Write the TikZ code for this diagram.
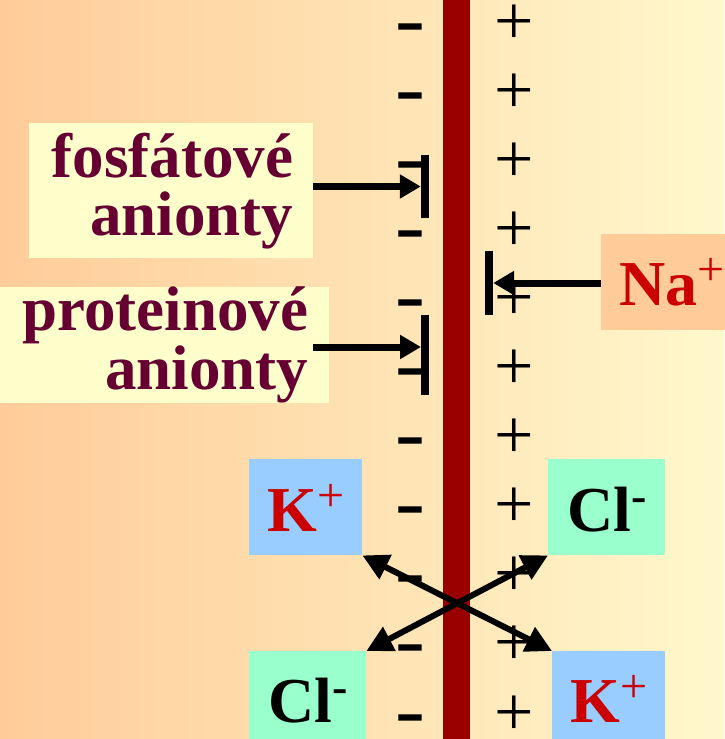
\documentclass[tikz,border=0pt]{standalone}
\usepackage{fontspec}
\setmainfont{Liberation Serif}
\usetikzlibrary{arrows.meta}
\definecolor{bgL}{HTML}{FFCC99}
\definecolor{bgR}{HTML}{FFF8CC}
\definecolor{memb}{HTML}{990000}
\definecolor{lblfill}{HTML}{FFFFCC}
\definecolor{lbltext}{HTML}{660033}
\definecolor{ionred}{HTML}{CC0000}
\definecolor{kfill}{HTML}{99CCFF}
\definecolor{clfill}{HTML}{99FFCC}
\definecolor{nafill}{HTML}{FFCC99}
\newcommand{\supplus}{\raisebox{20pt}{\fontsize{48}{48}\mdseries\selectfont +}}
\newcommand{\supminus}{\raisebox{20pt}{\fontsize{46}{46}\bfseries\selectfont -}}
\lineskiplimit=-100pt
\begin{document}
\begin{tikzpicture}[x=1pt,y=-1pt,
  lbl/.style={fill=lblfill, text=lbltext, align=right, inner ysep=0pt, anchor=north west},
  ion/.style={inner sep=0pt, minimum height=96pt, text height=72pt, text depth=24pt,
    font=\bfseries\fontsize{64}{64}\selectfont, anchor=north west},
  minussign/.style={inner sep=0pt, anchor=base, font=\bfseries\fontsize{62}{62}\selectfont},
  plussign/.style={inner sep=0pt, anchor=base, font=\fontsize{70}{70}\selectfont},
  gate/.style={fill=black, inner sep=0pt, minimum width=8pt},
  harrow/.style={line width=7pt, -{Triangle[length=21pt,width=23pt]}},
  xarrow/.style={line width=6pt, {Triangle[length=26pt,width=26pt]}-{Triangle[length=26pt,width=26pt]}}
]
\useasboundingbox (0,0) rectangle (724,739);
\shade[left color=bgL, right color=bgR] (0,0) rectangle (724,739);
\fill[memb] (443,0) rectangle (470,739);
\foreach \k in {0,...,10} {
  \pgfmathsetmacro{\ym}{24+69.1*\k+20}
  \pgfmathsetmacro{\yp}{22+69.1*\k+22}
  \node[minussign] (m\k) at (410.5,\ym) {\scalebox{1.45}[1.2]{-}};
  \node[plussign] (p\k) at (514,\yp) {+};
}
\node[lbl, inner xsep=20pt, text width=244pt, minimum height=135pt,
  font=\bfseries\fontsize{63}{58}\selectfont] (fos) at (29,123) {fosfátové\\anionty};
\node[lbl, inner xsep=21pt, text width=287pt, minimum height=112pt,
  font=\bfseries\fontsize{63}{44}\selectfont] (prot) at (0,287) {proteinové\\anionty};
\node[ion, fill=nafill, text=ionred, minimum width=142pt, text height=71pt, text depth=25pt] (Na) at (601,234) {Na\supplus};
\node[ion, fill=kfill, text=ionred, minimum width=113pt] (K1) at (249,459) {K\supplus};
\node[ion, fill=clfill, text=black, minimum width=117pt] (Cl1) at (548,459) {Cl\supminus};
\node[ion, fill=clfill, text=black, minimum width=117pt, text height=71pt, text depth=25pt] (Cl2) at (249,651) {Cl\supminus};
\node[ion, fill=kfill, text=ionred, minimum width=113pt, text height=71pt, text depth=25pt] (K2) at (552,651) {K\supplus};
\node[gate, minimum height=63pt] (gF) at (425,186.5) {};
\node[gate, minimum height=80pt] (gP) at (425,355) {};
\node[gate, minimum height=64pt] (gN) at (489,283) {};
\coordinate (pin) at (421,347);
\draw[harrow] (fos.east |- gF.west) -- (gF.west);
\draw[harrow] ([xshift=-16pt]prot.east |- pin) -- (pin);
\draw[harrow] (Na.west |- gN.east) -- (gN.east);
\draw[xarrow] (K1.south east) -- (K2.north west);
\draw[xarrow] (Cl1.south west) -- (Cl2.north east);
\end{tikzpicture}
\end{document}
